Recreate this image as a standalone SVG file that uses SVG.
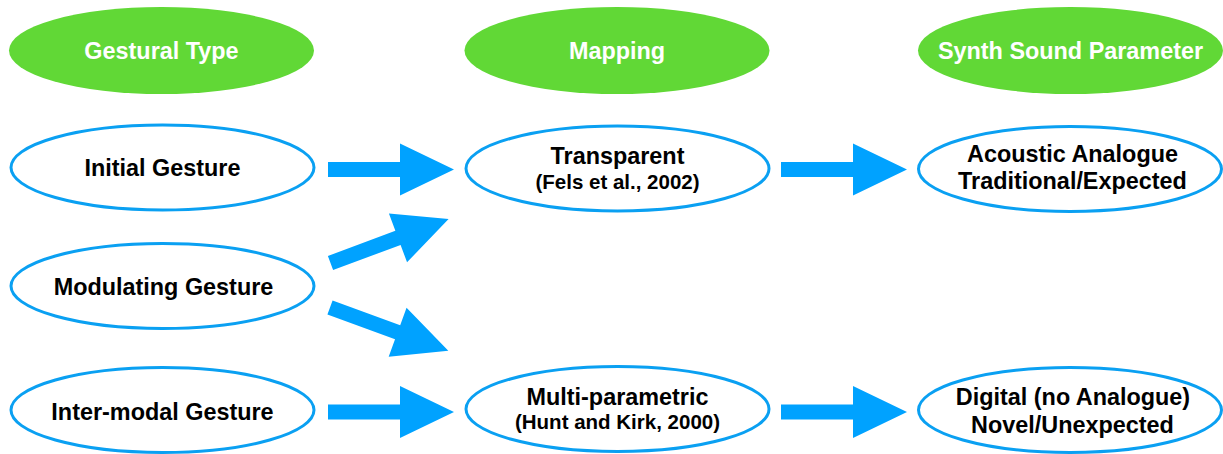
<svg xmlns="http://www.w3.org/2000/svg" xmlns:xlink="http://www.w3.org/1999/xlink" width="1223" height="454" viewBox="0 0 1223 454">
  <style>
    .head { fill: #61d836; }
    .node { fill: #ffffff; stroke: #0aa0f2; stroke-width: 3; }
    .t { font-family: "Liberation Sans", Arial, sans-serif; font-weight: bold; text-anchor: middle; }
    .ht { fill: #ffffff; font-size: 23.4px; }
    .nt { fill: #000000; font-size: 23.4px; }
    .st { fill: #000000; font-size: 20.5px; }
    .arrow { fill: #00a2ff; }
  </style>
  <defs>
    <!-- block arrow pointing along +x, origin at the tail centre -->
    <path id="blockArrow" d="M0,-7.5 H72 V-26 L126,0 L72,26 V7.5 H0 Z"/>
  </defs>

  <rect width="1223" height="454" fill="#ffffff"/>

  <!-- column headers -->
  <g id="hdr-gestural">
    <ellipse class="head" cx="161.5" cy="50.5" rx="152.5" ry="43.5"/>
    <text class="t ht" x="161.5" y="59">Gestural Type</text>
  </g>
  <g id="hdr-mapping">
    <ellipse class="head" cx="617" cy="50.5" rx="152.5" ry="43.5"/>
    <text class="t ht" x="617" y="59">Mapping</text>
  </g>
  <g id="hdr-synth">
    <ellipse class="head" cx="1070.5" cy="50.5" rx="152.5" ry="43.5"/>
    <text class="t ht" x="1070.5" y="59">Synth Sound Parameter</text>
  </g>

  <!-- gesture types -->
  <g id="initial">
    <ellipse class="node" cx="162.5" cy="167.5" rx="151.5" ry="42.5"/>
    <text class="t nt" x="162.5" y="175.5">Initial Gesture</text>
  </g>
  <g id="modulating">
    <ellipse class="node" cx="162.5" cy="286" rx="151.5" ry="42.5"/>
    <text class="t nt" x="163.5" y="294.5">Modulating Gesture</text>
  </g>
  <g id="intermodal">
    <ellipse class="node" cx="162.5" cy="410" rx="151.5" ry="42.5"/>
    <text class="t nt" x="162.5" y="419.5">Inter-modal Gesture</text>
  </g>

  <!-- mappings -->
  <g id="transparent">
    <ellipse class="node" cx="617.5" cy="168.5" rx="151.5" ry="42.5"/>
    <text class="t nt" x="617.5" y="164">Transparent</text>
    <text class="t st" x="617.5" y="188.5">(Fels et al., 2002)</text>
  </g>
  <g id="multiparametric">
    <ellipse class="node" cx="617.5" cy="409" rx="151.5" ry="42.5"/>
    <text class="t nt" x="617.5" y="405">Multi-parametric</text>
    <text class="t st" x="617.5" y="428.5">(Hunt and Kirk, 2000)</text>
  </g>

  <!-- synth sound parameters -->
  <g id="acoustic">
    <ellipse class="node" cx="1070" cy="169" rx="151.5" ry="42.5"/>
    <text class="t nt" x="1072.5" y="162">Acoustic Analogue</text>
    <text class="t nt" x="1072.5" y="189">Traditional/Expected</text>
  </g>
  <g id="digital">
    <ellipse class="node" cx="1070" cy="410" rx="151.5" ry="42.5"/>
    <text class="t nt" x="1073" y="405">Digital (no Analogue)</text>
    <text class="t nt" x="1072.5" y="432.5">Novel/Unexpected</text>
  </g>

  <!-- connectors -->
  <g id="connectors" class="arrow">
    <use xlink:href="#blockArrow" transform="translate(328,169.5)"/>
    <use xlink:href="#blockArrow" transform="translate(330.5,263) rotate(-20.4)"/>
    <use xlink:href="#blockArrow" transform="translate(330,307.5) rotate(20.1)"/>
    <use xlink:href="#blockArrow" transform="translate(328,412)"/>
    <use xlink:href="#blockArrow" transform="translate(781,169.5)"/>
    <use xlink:href="#blockArrow" transform="translate(781,412)"/>
  </g>
</svg>
